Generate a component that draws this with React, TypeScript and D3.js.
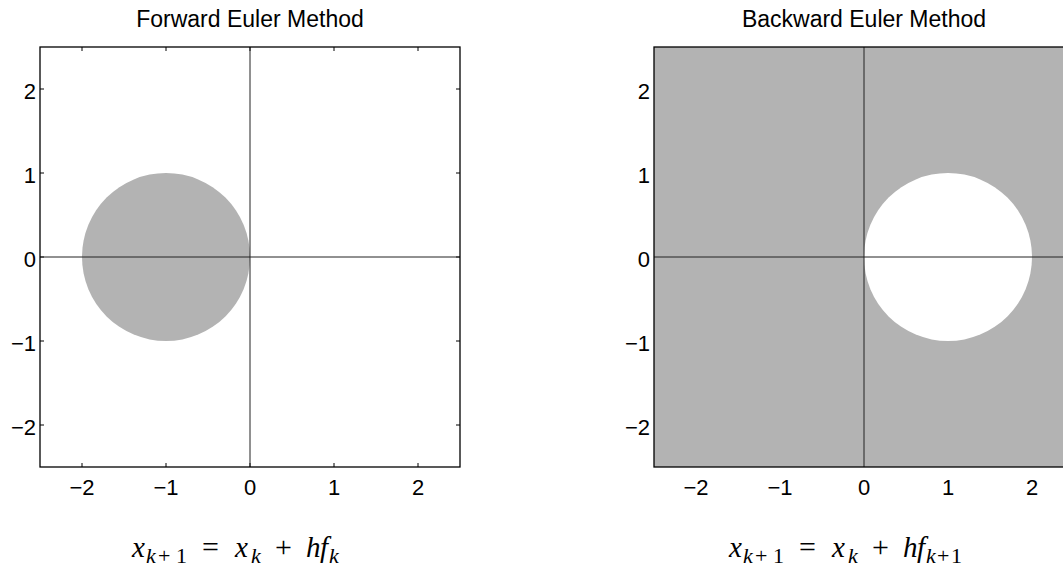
import React from "react";
import * as d3 from "d3";

const titles = ["Forward Euler Method", "Backward Euler Method"];
const tickValues = [-2, -1, 0, 1, 2];
const domain = [-2.5, 2.5];
// stability region: circle center and radius; inside filled (forward) or outside filled (backward)
const circleCenters = [-1, 1];
const circleRadius = 1;
const fillInside = [true, false];
const panelLeft = [40, 654];
const formulaSubscripts = [["k"], ["k", "+", "1"]];

const W = 1063;
const H = 567;
const SIZE = 420;
const TOP = 47;
const GREY = "#b3b3b3";
const FONT = "'Liberation Sans', Arial, Helvetica, sans-serif";
const MATH = "'Liberation Serif', 'Times New Roman', serif";

function fmt(v: number) {
  return v < 0 ? "\u2212" + Math.abs(v) : String(v);
}

function Panel({ idx }: { idx: number }) {
  const left = panelLeft[idx];
  const x = d3.scaleLinear().domain(domain).range([left, left + SIZE]);
  const y = d3.scaleLinear().domain(domain).range([TOP + SIZE, TOP]);
  const cx = x(circleCenters[idx]);
  const cy = y(0);
  const r = x(circleRadius) - x(0);
  const tick = 4;
  const clipId = "clip" + idx;
  return (
    <g>
      <defs>
        <clipPath id={clipId}>
          <rect x={left} y={TOP} width={SIZE} height={SIZE} />
        </clipPath>
      </defs>
      <rect x={left} y={TOP} width={SIZE} height={SIZE} fill="#fff" />
      {tickValues.map((t) => (
        <g key={"t" + t} stroke="#000" strokeWidth={1}>
          <line x1={x(t)} x2={x(t)} y1={TOP + SIZE} y2={TOP + SIZE - tick} />
          <line x1={x(t)} x2={x(t)} y1={TOP} y2={TOP + tick} />
          <line x1={left} x2={left + tick} y1={y(t)} y2={y(t)} />
          <line x1={left + SIZE} x2={left + SIZE - tick} y1={y(t)} y2={y(t)} />
        </g>
      ))}
      <g clipPath={`url(#${clipId})`}>
        {fillInside[idx] ? (
          <circle cx={cx} cy={cy} r={r} fill={GREY} />
        ) : (
          <>
            <rect x={left} y={TOP} width={SIZE} height={SIZE} fill={GREY} />
            <circle cx={cx} cy={cy} r={r} fill="#fff" />
          </>
        )}
        <line x1={left} x2={left + SIZE} y1={y(0)} y2={y(0)} stroke="#222" strokeWidth={1} />
        <line x1={x(0)} x2={x(0)} y1={TOP} y2={TOP + SIZE} stroke="#222" strokeWidth={1} />
      </g>
      <rect x={left} y={TOP} width={SIZE} height={SIZE} fill="none" stroke="#000" strokeWidth={1.3} />
      {tickValues.map((t) => (
        <text key={"xl" + t} x={x(t)} y={495} textAnchor="middle" fontFamily={FONT} fontSize={22} fill="#000">
          {fmt(t)}
        </text>
      ))}
      {tickValues.map((t) => (
        <text key={"yl" + t} x={left - 4} y={y(t) + 10} textAnchor="end" fontFamily={FONT} fontSize={22} fill="#000">
          {fmt(t)}
        </text>
      ))}
      <text x={x(0)} y={27} textAnchor="middle" fontFamily={FONT} fontSize={23} fill="#000">
        {titles[idx]}
      </text>
    </g>
  );
}

type Glyph = { s: string; off: number; sub?: boolean; it?: boolean };

function Formula({ idx, start }: { idx: number; start: number }) {
  const base: Glyph[] = [
    { s: "x", off: 0, it: true },
    { s: "k", off: 14, sub: true, it: true },
    { s: "+", off: 26, sub: true },
    { s: "1", off: 44, sub: true },
    { s: "=", off: 70 },
    { s: "x", off: 103, it: true },
    { s: "k", off: 119, sub: true, it: true },
    { s: "+", off: 143 },
    { s: "h", off: 174, it: true },
    { s: "f", off: 188, it: true },
  ];
  const subOffsets = [197, 208, 222];
  const tail: Glyph[] = formulaSubscripts[idx].map((s, i) => ({
    s,
    off: subOffsets[i],
    sub: true,
    it: s === "k",
  }));
  const glyphs = base.concat(tail);
  return (
    <g fontFamily={MATH} fill="#000">
      {glyphs.map((g, i) => (
        <text
          key={i}
          x={start + g.off}
          y={g.sub ? 563 : 557}
          fontSize={g.sub ? 22 : (g.s === "=" || g.s === "+") ? 30 : 29}
          fontStyle={g.it ? "italic" : "normal"}
        >
          {g.s}
        </text>
      ))}
    </g>
  );
}

export default function App() {
  return (
    <svg
      width={W}
      height={H}
      style={{ position: "absolute", left: 0, top: 0, background: "#fff" }}
    >
      <rect width={W} height={H} fill="#fff" />
      <Panel idx={0} />
      <Panel idx={1} />
      <Formula idx={0} start={132} />
      <Formula idx={1} start={729} />
    </svg>
  );
}
